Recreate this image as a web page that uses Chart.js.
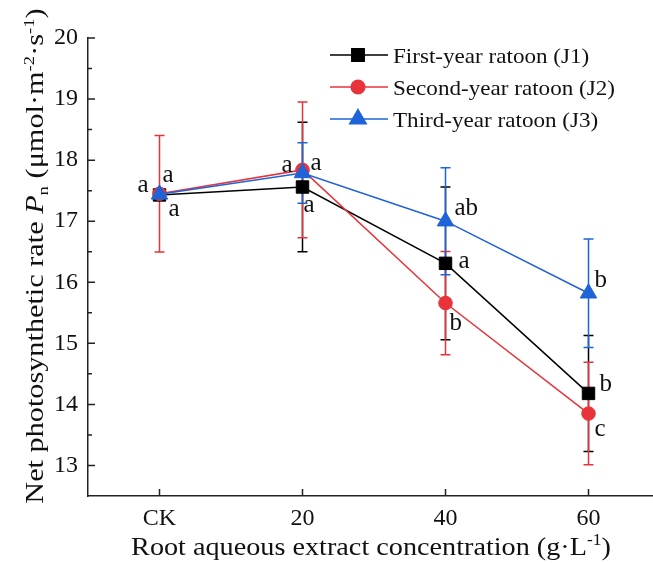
<!DOCTYPE html>
<html>
<head>
<meta charset="utf-8">
<script src="https://cdn.jsdelivr.net/npm/chart.js@4/dist/chart.umd.min.js"></script>
<style>
  html, body { margin: 0; padding: 0; background: #fff; }
  #wrap { width: 653px; height: 563px; }
</style>
</head>
<body>
<div id="wrap"><canvas id="chart" width="653" height="563"></canvas></div>
<script>
// concentrations on the x axis
const xLabels = ["CK", "20", "40", "60"];
const yTicks = [13, 14, 15, 16, 17, 18, 19, 20];

// net photosynthetic rate per ratoon year
const j1 = [17.43, 17.56, 16.31, 14.18];
const j2 = [17.45, 17.84, 15.66, 13.85];
const j3 = [17.44, 17.79, 17.0, 15.82];

// error bars (half length), null = not drawn
const j1Err = [null, 1.06, 1.25, 0.95];
const j2Err = [0.955, 1.11, 0.845, 0.84];
const j3Err = [null, 0.495, 0.875, 0.89];

// significance letters
const j1Sig = ["a", "a", "a", "b"];
const j2Sig = ["a", "a", "b", "c"];
const j3Sig = ["a", "a", "ab", "b"];

const seriesNames = ["First-year ratoon (J1)", "Second-year ratoon (J2)", "Third-year ratoon (J3)"];

const SERIF = '"Liberation Serif", "Times New Roman", serif';
const BLACK = "#000000";
const RED = "#e8333a";
const BLUE = "#1f63d8";

// where each letter sits next to its point (px)
const sigOffsets = [
  [[9, 21], [1, 25], [13, 5], [11, -2]],
  [[-22, -2], [-21, 2], [4, 27], [6, 22]],
  [[3, -12], [8, -3], [9, -6], [6, -6]],
];

const styles = [
  { color: BLACK, point: "rect", radius: 8.8 },
  { color: RED, point: "circle", radius: 6.8 },
  { color: BLUE, point: "triangle", radius: 9.5 },
];

const values = [j1, j2, j3];
const errs = [j1Err, j2Err, j3Err];
const sigs = [j1Sig, j2Sig, j3Sig];

// centred text with sub/superscripts, k = horizontal stretch
function richText(ctx, parts, x, y, size, k) {
  const fontFor = (p) => {
    const s = p.pos ? size * 0.62 : size;
    return (p.italic ? "italic " : "") + s + "px " + SERIF;
  };
  let total = 0;
  parts.forEach((p) => { ctx.font = fontFor(p); total += ctx.measureText(p.t).width; });
  ctx.save();
  ctx.translate(x, y);
  ctx.scale(k, 1);
  let cx = -total / 2;
  ctx.textAlign = "left";
  ctx.textBaseline = "alphabetic";
  parts.forEach((p) => {
    ctx.font = fontFor(p);
    let dy = 0;
    if (p.pos === "sup") dy = -size * 0.38;
    if (p.pos === "sub") dy = size * 0.2;
    ctx.fillText(p.t, cx, dy);
    cx += ctx.measureText(p.t).width;
  });
  ctx.restore();
}

const decor = {
  id: "decor",
  beforeDatasetsDraw(chart) {
    const ctx = chart.ctx;
    const xs = chart.scales.x, ys = chart.scales.y;
    ctx.save();
    ctx.lineWidth = 1.5;
    values.forEach((vals, s) => {
      ctx.strokeStyle = styles[s].color;
      vals.forEach((v, i) => {
        const e = errs[s][i];
        if (e == null) return;
        const x = xs.getPixelForValue(i);
        const yt = ys.getPixelForValue(v + e);
        const yb = ys.getPixelForValue(v - e);
        ctx.beginPath();
        ctx.moveTo(x, yt); ctx.lineTo(x, yb);
        ctx.moveTo(x - 5, yt); ctx.lineTo(x + 5, yt);
        ctx.moveTo(x - 5, yb); ctx.lineTo(x + 5, yb);
        ctx.stroke();
      });
    });
    ctx.restore();
  },
  afterDraw(chart) {
    const ctx = chart.ctx;
    const xs = chart.scales.x, ys = chart.scales.y;
    const area = chart.chartArea;
    ctx.save();

    // inward ticks
    ctx.strokeStyle = "#222";
    ctx.lineWidth = 1.5;
    ctx.beginPath();
    yTicks.forEach((t) => {
      const y = ys.getPixelForValue(t);
      ctx.moveTo(area.left, y); ctx.lineTo(area.left + 7, y);
      const ym = ys.getPixelForValue(t - 0.5);
      if (t - 0.5 > ys.min) { ctx.moveTo(area.left, ym); ctx.lineTo(area.left + 4, ym); }
    });
    xLabels.forEach((_, i) => {
      const x = xs.getPixelForValue(i);
      ctx.moveTo(x, area.bottom); ctx.lineTo(x, area.bottom - 7);
    });
    ctx.stroke();

    // significance letters
    ctx.fillStyle = "#111";
    ctx.font = "25px " + SERIF;
    ctx.textAlign = "left";
    ctx.textBaseline = "alphabetic";
    values.forEach((vals, s) => {
      vals.forEach((v, i) => {
        const [dx, dy] = sigOffsets[s][i];
        ctx.fillText(sigs[s][i], xs.getPixelForValue(i) + dx, ys.getPixelForValue(v) + dy);
      });
    });

    // legend
    const rows = [55, 87, 119];
    seriesNames.forEach((name, s) => {
      const y = rows[s];
      ctx.strokeStyle = styles[s].color;
      ctx.lineWidth = 1.5;
      ctx.beginPath(); ctx.moveTo(330, y); ctx.lineTo(388, y); ctx.stroke();
      ctx.fillStyle = styles[s].color;
      Chart.helpers.drawPoint(ctx, { pointStyle: styles[s].point, radius: styles[s].radius, borderWidth: 1 }, 358, y);
      ctx.fillStyle = "#111";
      ctx.font = "21px " + SERIF;
      ctx.save();
      ctx.translate(393, y + 8);
      ctx.scale(1.1, 1);
      ctx.fillText(name, 0, 0);
      ctx.restore();
    });

    // axis titles
    ctx.fillStyle = "#111";
    richText(ctx, [
      { t: "Root aqueous extract concentration (g·L" },
      { t: "-1", pos: "sup" },
      { t: ")" },
    ], 371, 555, 26, 1.085);

    ctx.translate(43, 256);
    ctx.rotate(-Math.PI / 2);
    richText(ctx, [
      { t: "Net photosynthetic rate " },
      { t: "P", italic: true },
      { t: "n", pos: "sub" },
      { t: " (μmol·m" },
      { t: "-2", pos: "sup" },
      { t: "·s" },
      { t: "-1", pos: "sup" },
      { t: ")" },
    ], 0, 0, 25, 1.21);

    ctx.restore();
  },
};

const datasets = values.map((vals, s) => ({
  label: seriesNames[s],
  data: vals.map((v, i) => ({ x: i, y: v })),
  borderColor: styles[s].color,
  backgroundColor: styles[s].color,
  borderWidth: 1.5,
  pointStyle: styles[s].point,
  pointRadius: styles[s].radius,
  pointHoverRadius: styles[s].radius,
  pointBorderWidth: 1,
  tension: 0,
  order: 3 - s,
}));

new Chart(document.getElementById("chart").getContext("2d"), {
  type: "line",
  data: { datasets },
  options: {
    responsive: false,
    animation: false,
    events: [],
    layout: { autoPadding: false, padding: { left: 0, top: 38, right: 0, bottom: 0 } },
    plugins: { legend: { display: false }, tooltip: { enabled: false } },
    scales: {
      x: {
        type: "linear",
        min: -0.5,
        max: 3.451,
        afterBuildTicks: (scale) => { scale.ticks = xLabels.map((_, i) => ({ value: i })); },
        afterFit: (scale) => {
          scale.height = 67;
          scale.paddingLeft = 0;
          scale.paddingRight = 0;
        },
        grid: { display: false, drawTicks: false },
        border: { display: true, color: "#222", width: 1.5 },
        ticks: {
          padding: 8,
          color: "#111",
          font: { family: SERIF, size: 24 },
          callback: (v) => xLabels[v] ?? "",
        },
      },
      y: {
        type: "linear",
        min: 12.5,
        max: 20,
        afterBuildTicks: (scale) => { scale.ticks = yTicks.map((v) => ({ value: v })); },
        afterFit: (scale) => { scale.width = 88; },
        grid: { display: false, drawTicks: false },
        border: { display: true, color: "#222", width: 1.5 },
        ticks: {
          padding: 10,
          color: "#111",
          font: { family: SERIF, size: 24 },
        },
      },
    },
  },
  plugins: [decor],
});
</script>
</body>
</html>
